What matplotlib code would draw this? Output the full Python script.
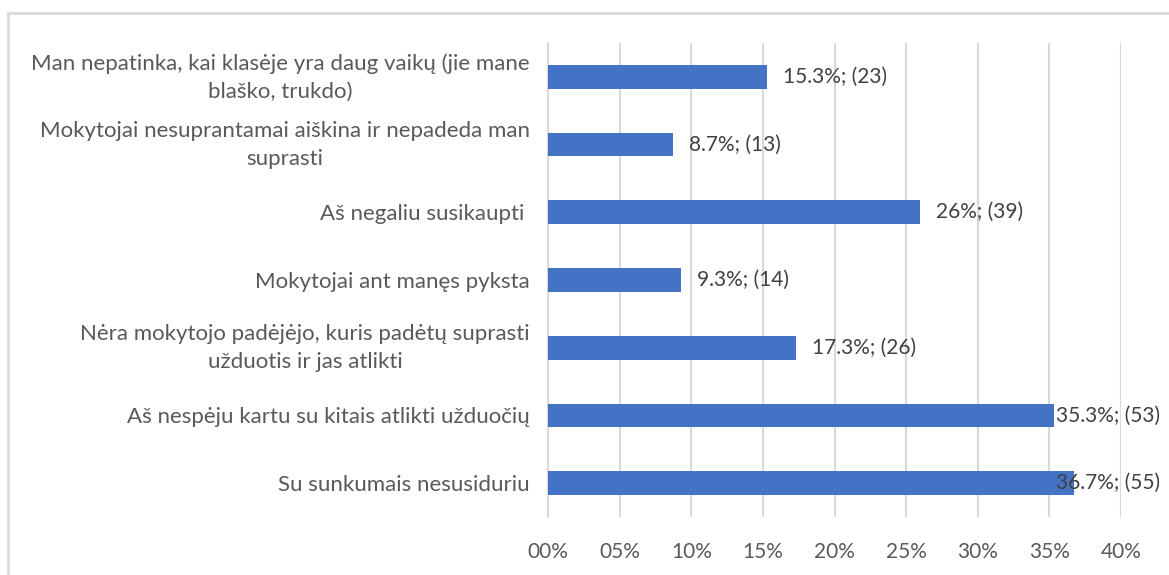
import matplotlib.pyplot as plt
from matplotlib.patches import Rectangle
from matplotlib.ticker import FuncFormatter, MultipleLocator
from matplotlib.transforms import ScaledTranslation

plt.rcParams['font.family'] = ['Lato', 'DejaVu Sans']

reasons = [
    "Man nepatinka, kai klasėje yra daug vaikų (jie mane\nblaško, trukdo)",
    "Mokytojai nesuprantamai aiškina ir nepadeda man\nsuprasti",
    "Aš negaliu susikaupti ",
    "Mokytojai ant manęs pyksta",
    "Nėra mokytojo padėjėjo, kuris padėtų suprasti\nužduotis ir jas atlikti",
    "Aš nespėju kartu su kitais atlikti užduočių",
    "Su sunkumais nesusiduriu",
]
percent = [15.3, 8.7, 26, 9.3, 17.3, 35.3, 36.7]
counts = [23, 13, 39, 14, 26, 53, 55]

W, H = 1169, 575
fig = plt.figure(figsize=(W / 100, H / 100), dpi=100)
ax = fig.add_axes([548 / W, 0.1009, 573 / W, 0.8243])

pos = range(len(reasons))
ax.barh(pos, [p / 100 for p in percent], height=0.35, color='#4472C4', zorder=3)

ax.set_xlim(0, 0.40)
ax.set_ylim(len(reasons) - 0.5, -0.5)
ax.xaxis.set_major_locator(MultipleLocator(0.05))
ax.xaxis.set_major_formatter(FuncFormatter(lambda v, _: f"{v * 100:02.0f}%"))
ax.set_yticks(list(pos))
ax.set_yticklabels(reasons)

ax.grid(axis='x', color='#d9d9d9', linewidth=1.5, zorder=0)
for s in ['top', 'right', 'bottom']:
    ax.spines[s].set_visible(False)
ax.spines['left'].set_color('#d9d9d9')
ax.spines['left'].set_linewidth(1.5)
ax.tick_params(axis='y', length=0, pad=13, labelsize=16, labelcolor='#595959')
ax.tick_params(axis='x', length=0, pad=18, labelsize=15, labelcolor='#595959')

# two-line labels sit a little low, nudge them up
lift = ScaledTranslation(0, 4 / 72, fig.dpi_scale_trans)
for lab in ax.get_yticklabels():
    lab.set_multialignment('center')
    lab.set_linespacing(1.5)
    if '\n' in lab.get_text():
        lab.set_transform(lab.get_transform() + lift)

# value labels: just past the bar end, pulled back if they would leave the chart
fig.canvas.draw()
renderer = fig.canvas.get_renderer()
to_px = ax.transData
for i, (p, n) in enumerate(zip(percent, counts)):
    t = ax.text(p / 100, i, f"{p:g}%; ({n})", va='center', ha='left',
                fontsize=15, color='#404040', zorder=4)
    width = t.get_window_extent(renderer).width
    x_end = to_px.transform((p / 100, i))[0]
    x0 = min(x_end + 16, 1160 - width)
    t.set_x(to_px.inverted().transform((x0, 0))[0])

# light frame around the chart area
fig.patches.append(Rectangle((8 / W, -0.1), 1.2, 1.1 - 13 / H,
                             transform=fig.transFigure, fill=False,
                             edgecolor='#d9d9d9', linewidth=2))

fig.savefig('out.png', dpi=100)
